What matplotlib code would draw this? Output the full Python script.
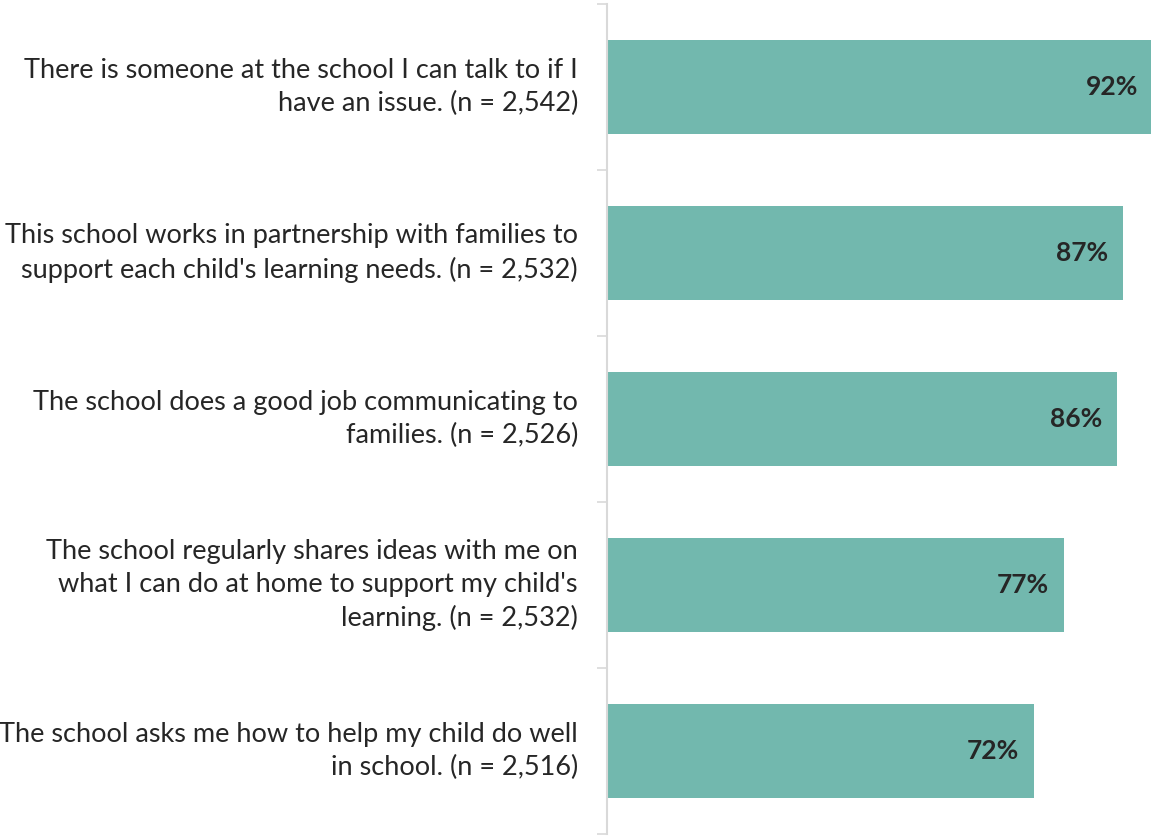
import matplotlib.pyplot as plt

labels = [
    "There is someone at the school I can talk to if I\nhave an issue. (n = 2,542)",
    "This school works in partnership with families to\nsupport each child's learning needs. (n = 2,532)",
    "The school does a good job communicating to\nfamilies. (n = 2,526)",
    "The school regularly shares ideas with me on\nwhat I can do at home to support my child's\nlearning. (n = 2,532)",
    "The school asks me how to help my child do well\nin school. (n = 2,516)",
]
values = [92, 87, 86, 77, 72]

plt.rcParams['font.family'] = ['Lato', 'DejaVu Sans']

fig = plt.figure(figsize=(11.51, 8.36), dpi=100)
ax = fig.add_axes([607 / 1151, 2 / 836, 544 / 1151, 830 / 836])

ypos = list(range(len(values)))
ax.barh(ypos, values, height=0.566, color='#72b8ae', clip_on=True)

for y, v in zip(ypos, values):
    ax.text(v - 2.5, y, f"{v}%", ha='right', va='center', fontsize=19,
            fontweight='bold', color='#262626')

ax.set_xlim(0, 91.7)
ax.set_ylim(len(values) - 0.5, -0.5)

# category labels, right aligned to the left of the axis
for y, lab in zip(ypos, labels):
    ax.text(-4.9, y, lab, ha='right', va='center', fontsize=19.5,
            color='#262626', linespacing=1.38, clip_on=False)

ax.set_yticks([i - 0.5 for i in range(len(values) + 1)])
ax.set_yticklabels([])
ax.tick_params(axis='y', length=7, color='#d9d9d9', width=1.2)
ax.set_xticks([])

for s in ['top', 'right', 'bottom']:
    ax.spines[s].set_visible(False)
ax.spines['left'].set_color('#d9d9d9')
ax.spines['left'].set_linewidth(1.5)

fig.savefig('out.png', dpi=100)
